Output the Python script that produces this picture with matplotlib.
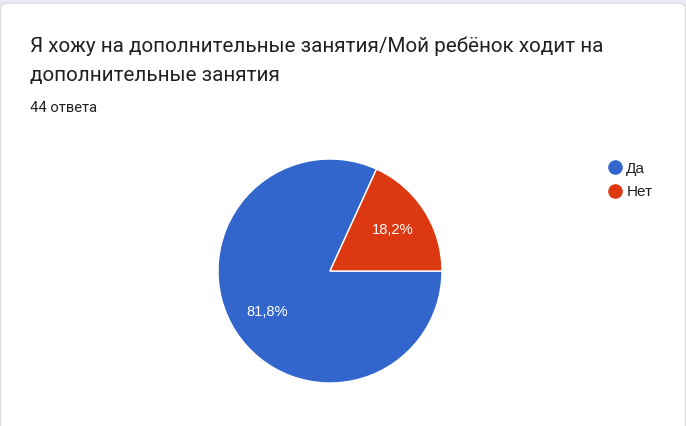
import matplotlib.pyplot as plt
from matplotlib.lines import Line2D
from matplotlib.patches import FancyBboxPatch

# данные опроса
labels = ['Да', 'Нет']
counts = [36, 8]
colors = ['#3366CC', '#DC3912']
title = 'Я хожу на дополнительные занятия/Мой ребёнок ходит на\nдополнительные занятия'
subtitle = '44 ответа'

W, H = 686, 426
fig = plt.figure(figsize=(W / 100, H / 100), dpi=100)
fig.patch.set_facecolor('#ece9f4')

# рамка карточки
card = FancyBboxPatch((0.5 / W, -0.1), (W - 1) / W, 1.1 - 3 / H,
                      boxstyle='round,pad=0,rounding_size=0.012',
                      transform=fig.transFigure, facecolor='white',
                      edgecolor='#dadce0', linewidth=1, zorder=-10)
fig.patches.append(card)

fig.text(30 / W, 1 - 37 / H, title, fontsize=14.9, family='Roboto',
         color='#202124', va='top', ha='left', linespacing=1.6)
fig.text(30 / W, 1 - 108 / H, subtitle, fontsize=10.6, family='Roboto',
         color='#202124', va='center', ha='left')

# круговая диаграмма
cx, cy, r = 330, 271, 112
ax = fig.add_axes([(cx - r) / W, (H - cy - r) / H, 2 * r / W, 2 * r / H])
ax.set_zorder(5)
start = 360 * counts[1] / sum(counts)
wedges, texts, autotexts = ax.pie(
    counts, colors=colors, startangle=start, counterclock=True,
    autopct=lambda p: f'{p:.1f}%'.replace('.', ','), pctdistance=0.67,
    wedgeprops=dict(edgecolor='white', linewidth=1),
    textprops=dict(color='white', fontsize=10.6, family='Liberation Sans'))
ax.set_aspect('equal')
ax.set_xlim(-1, 1)
ax.set_ylim(-1, 1)

# легенда
handles = [Line2D([], [], marker='o', linestyle='none', markersize=9.5,
                  markerfacecolor=c, markeredgecolor=c) for c in colors]
leg = fig.legend(handles, labels, loc='upper left',
                 bbox_to_anchor=(592 / W, 1 - 148 / H), frameon=False,
                 handletextpad=0.15, labelspacing=0.6, handlelength=1.2,
                 prop=dict(family='Liberation Sans', size=11),
                 labelcolor='#222222')
leg.set_zorder(6)

fig.savefig('out.png', dpi=100)
